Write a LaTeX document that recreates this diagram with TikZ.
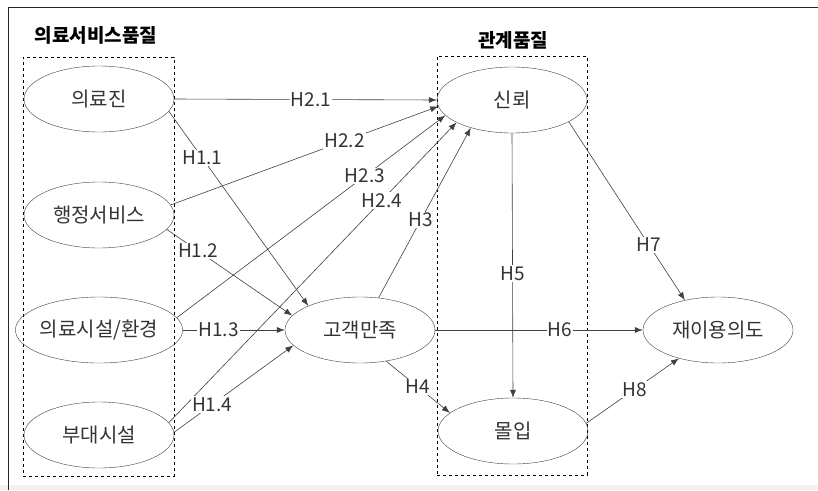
\documentclass[tikz,border=0pt]{standalone}
\usepackage{fontspec}
\setmainfont{Noto Sans CJK KR}
\usetikzlibrary{arrows.meta,shapes.geometric}
\begin{document}
\begin{tikzpicture}[x=1pt,y=-1pt,
  lbl/.style={font=\fontsize{19}{21}\selectfont, text=black!80},
  ell/.style={draw=black!75, ellipse, minimum width=150pt, minimum height=66pt, inner sep=0pt, font=\fontsize{20}{22}\selectfont, text=black!80},
  grp/.style={draw, dashed, line width=0.6pt},
  ttl/.style={font=\fontsize{19}{21}\selectfont\bfseries},
  arr/.style={-{Latex[length=8pt,width=6pt]}, draw=black!75, line width=0.6pt},
  hl/.style={lbl, fill=white, inner sep=1pt}
]
\useasboundingbox (0,0) rectangle (818,490);
\fill[white] (0,0) rectangle (818,490);
\fill[black!5] (0,485) rectangle (818,490);
\draw[line width=0.9pt, black!85] (8,490) -- (8,7) -- (818,7);

% group boxes
\node[grp, minimum width=151pt, minimum height=419pt, inner sep=0pt] (g1) at (98.5,266.5) {};
\node[grp, minimum width=150pt, minimum height=419pt, inner sep=0pt] (g2) at (512,265.5) {};
\node[ttl] (t1) at (96,35) {의료서비스품질};
\node[ttl] (t2) at (513,40) {관계품질};

% ellipses
\node[ell] (a1) at (99,99) {의료진};
\node[ell] (a2) at (99,215) {행정서비스};
\node[ell] (a3) at (99,330) {의료시설/환경};
\node[ell] (a4) at (99,435) {부대시설};
\node[ell] (cs) at (360,330) {고객만족};
\node[ell] (tr) at (512,100) {신뢰};
\node[ell] (cm) at (513,431) {몰입};
\node[ell] (re) at (718,330) {재이용의도};

% H2.x to trust
\draw[arr] (a1.east) -- node[hl, pos=0.52] {H2.1} (tr.west);
\draw[arr] (a2.8) -- node[hl, pos=0.65] {H2.2} (tr.185);
\draw[arr] (a3.9) -- node[hl, pos=0.7] {H2.3} (tr.193);
\draw[arr] (a4.10) -- node[hl, pos=0.74] {H2.4} (tr.202);
\draw[arr] (cs.60) -- node[hl, pos=0.46] {H3} (tr.214);

% H1.x to satisfaction
\draw[arr] (a1.-10) -- node[hl, pos=0.24] {H1.1} (cs.155);
\draw[arr] (a2.-12) -- node[hl, pos=0.25] {H1.2} (cs.168);
\draw[arr] (a3.east) -- node[hl, pos=0.35] {H1.3} (cs.west);
\draw[arr] (a4.2) -- node[hl, pos=0.32] {H1.4} (cs.193);

\draw[arr] (cs.-50) -- node[hl, pos=0.5] {H4} (cm.164);
\draw[arr] (tr.south) -- node[hl, pos=0.53] {H5} (cm.north);
\draw[arr] (cs.east) -- node[hl, pos=0.6] {H6} (re.west);
\draw[arr] (tr.-21) -- node[hl, pos=0.69] {H7} (re.138);
\draw[arr] (cm.6) -- node[hl, pos=0.52] {H8} (re.216);
\end{tikzpicture}
\end{document}
